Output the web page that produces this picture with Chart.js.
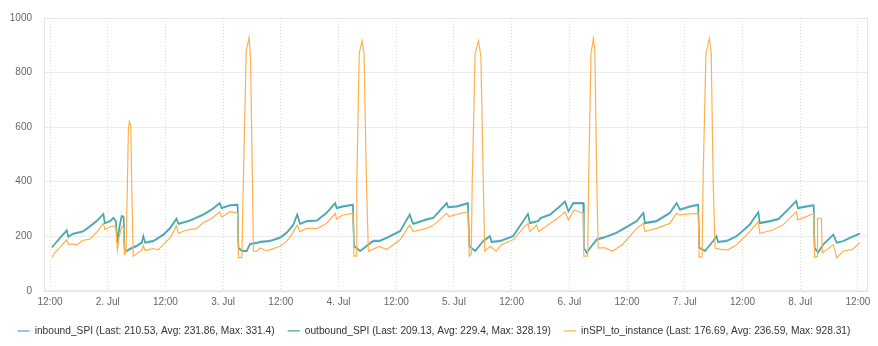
<!DOCTYPE html>
<html>
<head>
<meta charset="utf-8">
<script src="https://cdn.jsdelivr.net/npm/chart.js@4.4.1/dist/chart.umd.min.js"></script>
<style>
    html, body { margin: 0; padding: 0; background: #fff; }
    #wrap { width: 878px; height: 346px; }
</style>
</head>
<body>
<div id="wrap"><canvas id="spiChart" width="878" height="346"></canvas></div>
<script>
// hours since 1. Jul 00:00
const tickHours = [12, 24, 36, 48, 60, 72, 84, 96, 108, 120, 132, 144, 156, 168, 180];
const tickLabels = ['12:00', '2. Jul', '12:00', '3. Jul', '12:00', '4. Jul', '12:00', '5. Jul',
    '12:00', '6. Jul', '12:00', '7. Jul', '12:00', '8. Jul', '12:00'];
const yTicks = [0, 200, 400, 600, 800, 1000];

const seriesNames = [
    'inbound_SPI (Last: 210.53, Avg: 231.86, Max: 331.4)',
    'outbound_SPI (Last: 209.13, Avg: 229.4, Max: 328.19)',
    'inSPI_to_instance (Last: 176.69, Avg: 236.59, Max: 928.31)'
];

const spiHours = [
    12.4, 14.1, 15.5, 15.8, 16.8, 18.9, 20.3, 21.7, 23.1, 23.4, 24.5, 25.2, 25.7, 26.0, 26.4, 26.9, 27.3, 27.5,
    28.0, 28.6, 30.0, 31.1, 31.4, 31.8, 33.5, 35.6, 37.0, 38.3, 38.7, 41.1, 43.9, 45.6, 47.3, 47.7, 49.4, 51.0, 51.2,
    51.9, 52.9, 53.6, 55.2, 55.7, 57.7, 59.8, 61.2, 62.6, 63.4, 64.0, 65.4, 67.5, 69.5, 71.3, 71.6, 72.9, 75.0, 75.2,
    76.5, 79.2, 80.5, 82.0, 84.8, 86.8, 87.5, 90.3, 91.7, 94.5, 94.8, 96.6, 98.9, 99.2,
    100.4, 102.1, 103.5, 103.8, 105.6, 108.3, 110.4, 111.4, 111.8, 113.5, 114.0, 116.0, 118.0, 119.1, 119.8, 120.8, 122.9, 123.0,
    123.6, 124.5, 125.7, 127.0, 129.8, 134.0, 135.4, 135.7, 138.1, 140.9, 142.3, 143.0, 145.1, 146.8, 147.0,
    148.2, 149.9, 150.6, 150.9, 152.7, 154.8, 157.5, 159.3, 159.6, 161.7, 163.5, 165.8, 167.2, 167.5, 169.3, 170.8, 171.0,
    171.7, 172.8, 174.9, 175.6, 176.9, 178.3, 180.4
];

const inboundValues = [
    160, 195, 223, 199, 210, 219, 238, 257, 283, 249, 257, 269, 257, 177, 233, 275, 273, 152,
    147, 155, 166, 178, 202, 178, 184, 208, 232, 266, 247, 259, 281, 299, 323, 305, 315, 317, 159,
    147, 148, 173, 178, 181, 184, 196, 214, 244, 281, 247, 257, 259, 287, 323, 305, 311, 317, 165,
    147, 184, 184, 196, 220, 281, 247, 263, 269, 323, 308, 311, 323, 165,
    147, 184, 202, 181, 184, 202, 257, 283, 250, 257, 268, 281, 311, 329, 293, 323, 323, 159,
    141, 163, 190, 196, 214, 257, 287, 250, 257, 287, 323, 299, 311, 317, 159,
    147, 184, 202, 181, 184, 202, 244, 290, 250, 257, 265, 305, 331, 305, 311, 315, 159,
    141, 171, 207, 177, 183, 195, 211
];

const outboundValues = [
    159, 193, 220, 197, 208, 217, 235, 254, 280, 247, 254, 266, 254, 175, 230, 272, 270, 150,
    145, 152, 163, 175, 199, 175, 181, 205, 229, 263, 244, 256, 278, 296, 320, 302, 312, 314, 157,
    145, 145, 170, 175, 178, 181, 193, 211, 241, 278, 244, 254, 256, 284, 320, 302, 308, 314, 163,
    145, 181, 181, 193, 217, 278, 244, 260, 266, 320, 305, 308, 320, 163,
    145, 181, 199, 178, 181, 199, 254, 280, 247, 254, 265, 278, 308, 326, 290, 320, 320, 157,
    139, 160, 187, 193, 211, 254, 284, 247, 254, 284, 320, 296, 308, 314, 157,
    145, 181, 199, 178, 181, 199, 241, 287, 247, 254, 262, 302, 328, 302, 308, 312, 157,
    139, 169, 205, 175, 181, 193, 209
];

const instanceHours = [
    12.4, 13.0, 14.1, 15.5, 15.8, 16.8, 17.5, 18.9, 20.3, 21.7, 23.1, 23.4, 24.5, 25.2, 25.7, 26.0, 26.4, 26.9, 27.3, 27.5,
    27.8, 28.1, 28.3, 28.5, 28.8, 29.0, 29.3,
    30.0, 31.1, 31.4, 31.8, 33.5, 34.5, 35.6, 37.0, 38.3, 38.7, 40.0, 41.1, 42.5, 43.9, 45.6, 47.3, 47.7, 49.4, 51.0, 51.2,
    51.9, 52.2, 52.8, 53.4, 53.7, 54.1, 54.3,
    55.0, 55.7, 57.0, 57.7, 59.8, 61.2, 62.6, 63.4, 64.0, 65.4, 67.5, 69.5, 71.3, 71.6, 72.9, 75.0, 75.2,
    75.7, 75.8, 76.3, 76.9, 77.3, 77.8, 78.2,
    80.5, 82.0, 84.8, 86.8, 87.5, 90.3, 91.7, 94.5, 95.0, 96.6, 98.9, 99.2,
    99.6, 99.8, 100.4, 101.1, 101.6, 102.1, 102.4,
    103.5, 104.8, 105.9, 108.3, 110.4, 111.4, 111.8, 113.2, 113.6, 116.0, 118.0, 119.1, 119.8, 121.0, 122.9, 123.0,
    123.8, 124.0, 124.5, 125.0, 125.3, 125.7, 126.0,
    127.5, 128.9, 131.0, 134.0, 135.4, 135.7, 138.1, 140.9, 142.3, 143.0, 145.1, 146.8, 147.0,
    147.6, 147.8, 148.4, 149.1, 149.5, 149.9, 150.3,
    151.5, 153.0, 154.8, 157.5, 159.3, 159.6, 162.3, 164.4, 167.2, 167.5, 169.3, 170.8, 171.0,
    171.5, 171.6, 172.4, 172.6, 174.9, 175.6, 176.9, 178.9, 180.4
];

const instanceValues = [
    121, 140, 160, 188, 170, 172, 168, 185, 190, 215, 247, 225, 235, 238, 232, 150, 200, 235, 232, 134,
    140, 400, 592, 620, 604, 380, 127,
    135, 150, 165, 148, 155, 150, 170, 195, 238, 210, 220, 225, 228, 250, 265, 290, 270, 290, 285, 121,
    123, 400, 880, 928, 850, 400, 145,
    145, 157, 147, 150, 163, 181, 215, 241, 217, 229, 228, 247, 284, 263, 278, 284, 127,
    127, 400, 870, 916, 870, 400, 145,
    163, 151, 187, 241, 217, 229, 240, 284, 272, 280, 290, 127,
    135, 400, 870, 916, 860, 400, 145,
    163, 145, 169, 187, 229, 247, 217, 241, 217, 247, 272, 290, 260, 296, 284, 127,
    127, 400, 870, 926, 880, 400, 157,
    157, 145, 169, 229, 247, 217, 229, 247, 284, 278, 282, 284, 123,
    125, 400, 870, 925, 870, 400, 157,
    152, 150, 169, 217, 254, 211, 223, 241, 290, 260, 272, 284, 123,
    125, 266, 266, 139, 169, 121, 145, 152, 177
];

function toPoints(hours, values) {
    return hours.map((h, i) => ({ x: h, y: values[i] }));
}

const fontFamily = "'Liberation Sans', Arial, sans-serif";

// light frame around the plot area
const plotFrame = {
    id: 'plotFrame',
    beforeDatasetsDraw(chart) {
        const a = chart.chartArea;
        const c = chart.ctx;
        c.save();
        c.strokeStyle = '#e6e6e6';
        c.lineWidth = 1;
        c.strokeRect(Math.round(a.left) + 0.5, Math.round(a.top) + 0.5,
            Math.round(a.right - a.left) - 1, Math.round(a.bottom - a.top));
        c.restore();
    }
};

const ctx = document.getElementById('spiChart').getContext('2d');

new Chart(ctx, {
    type: 'line',
    data: {
        datasets: [{
            label: seriesNames[0],
            data: toPoints(spiHours, inboundValues),
            borderColor: '#78a9ea',
            borderWidth: 1.5,
            order: 3
        }, {
            label: seriesNames[1],
            data: toPoints(spiHours, outboundValues),
            borderColor: '#3bae95',
            borderWidth: 1.3,
            order: 2
        }, {
            label: seriesNames[2],
            data: toPoints(instanceHours, instanceValues),
            borderColor: '#ffb04d',
            borderWidth: 1.2,
            order: 1
        }]
    },
    options: {
        responsive: false,
        animation: false,
        events: [],
        layout: {
            autoPadding: false,
            padding: { left: 0, right: 10, top: 11, bottom: 0 }
        },
        elements: {
            point: { radius: 0 },
            line: { tension: 0 }
        },
        scales: {
            x: {
                type: 'linear',
                min: 10.75,
                max: 182.1,
                afterBuildTicks: scale => {
                    scale.ticks = tickHours.map(v => ({ value: v }));
                },
                afterFit: scale => { scale.height = 22; },
                ticks: {
                    autoSkip: false,
                    maxRotation: 0,
                    padding: 5,
                    color: '#666',
                    font: { family: fontFamily, size: 10 },
                    callback: (v) => tickLabels[tickHours.indexOf(v)]
                },
                grid: {
                    color: '#dcdcdc',
                    drawTicks: false
                },
                border: { display: false, dash: [1, 2] }
            },
            y: {
                min: 0,
                max: 1000,
                afterBuildTicks: scale => {
                    scale.ticks = yTicks.map(v => ({ value: v }));
                },
                afterFit: scale => { scale.width = 44; },
                ticks: {
                    padding: 12,
                    color: '#666',
                    font: { family: fontFamily, size: 10 },
                    callback: (v) => String(v)
                },
                grid: {
                    color: '#ebebeb',
                    drawTicks: false
                },
                border: { display: false }
            }
        },
        plugins: {
            legend: {
                position: 'bottom',
                labels: {
                    usePointStyle: true,
                    pointStyle: 'line',
                    pointStyleWidth: 12,
                    padding: 13,
                    color: '#333',
                    font: { family: fontFamily, size: 10.2 },
                    sort: (a, b) => a.datasetIndex - b.datasetIndex
                }
            },
            tooltip: { enabled: false }
        }
    },
    plugins: [plotFrame]
});
</script>
</body>
</html>
